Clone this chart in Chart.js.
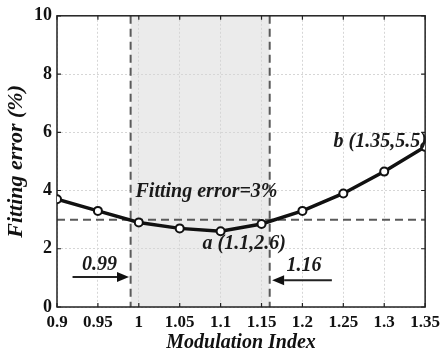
<!DOCTYPE html>
<html>
<head>
<meta charset="utf-8">
<script src="https://cdn.jsdelivr.net/npm/chart.js@4/dist/chart.umd.min.js"></script>
<style>
html,body{margin:0;padding:0;background:#fff;}
canvas{display:block;}
</style>
</head>
<body>
<canvas id="c" width="445" height="356"></canvas>
<script>
// ---- data ----
const xValues = [0.9, 0.95, 1.0, 1.05, 1.1, 1.15, 1.2, 1.25, 1.3, 1.35];
const errorValues = [3.7, 3.3, 2.9, 2.7, 2.6, 2.85, 3.3, 3.9, 4.65, 5.5];
const xTickValues = [0.9, 0.95, 1.0, 1.05, 1.1, 1.15, 1.2, 1.25, 1.3, 1.35];
const xTickLabels = ['0.9', '0.95', '1', '1.05', '1.1', '1.15', '1.2', '1.25', '1.3', '1.35'];
const yTickValues = [0, 2, 4, 6, 8, 10];
const yTickLabels = ['0', '2', '4', '6', '8', '10'];
const thresholdValue = 3;
const bandBounds = [0.99, 1.16];
const noteTexts = ['Fitting error=3%', 'a (1.1,2.6)', 'b (1.35,5.5)', '0.99', '1.16'];
const noteX = [0.996, 1.078, 1.238, 0.952, 1.202];
const noteY = [3.94, 2.16, 5.68, 1.44, 1.40];
const noteAlign = ['left', 'left', 'left', 'center', 'center'];
const arrowFromX = [0.919, 1.236];
const arrowToX = [0.988, 1.163];
const arrowY = [1.03, 0.92];

const SERIF = '"Liberation Serif", "Times New Roman", serif';

const decorPlugin = {
  id: 'decor',
  beforeDraw(chart) {
    const {ctx, chartArea: a, scales: {x, y}} = chart;
    ctx.save();
    ctx.fillStyle = '#ebebeb';
    const x0 = x.getPixelForValue(bandBounds[0]);
    const x1 = x.getPixelForValue(bandBounds[1]);
    ctx.fillRect(x0, a.top, x1 - x0, a.bottom - a.top);
    ctx.restore();
  },
  beforeDatasetsDraw(chart) {
    const {ctx, chartArea: a, scales: {x, y}} = chart;
    ctx.save();
    ctx.strokeStyle = '#5a5a5a';
    ctx.lineWidth = 2;
    ctx.setLineDash([8, 5]);
    const yt = y.getPixelForValue(thresholdValue);
    ctx.beginPath(); ctx.moveTo(a.left, yt); ctx.lineTo(a.right, yt); ctx.stroke();
    bandBounds.forEach(v => {
      const px = x.getPixelForValue(v);
      ctx.beginPath(); ctx.moveTo(px, a.top); ctx.lineTo(px, a.bottom); ctx.stroke();
    });
    ctx.setLineDash([]);
    // box + inward ticks
    ctx.strokeStyle = '#222';
    ctx.lineWidth = 1.5;
    ctx.strokeRect(a.left, a.top, a.right - a.left, a.bottom - a.top);
    ctx.lineWidth = 1.2;
    xTickValues.forEach(v => {
      const px = x.getPixelForValue(v);
      ctx.beginPath(); ctx.moveTo(px, a.bottom); ctx.lineTo(px, a.bottom - 4);
      ctx.moveTo(px, a.top); ctx.lineTo(px, a.top + 4); ctx.stroke();
    });
    yTickValues.forEach(v => {
      const py = y.getPixelForValue(v);
      ctx.beginPath(); ctx.moveTo(a.left, py); ctx.lineTo(a.left + 4, py);
      ctx.moveTo(a.right, py); ctx.lineTo(a.right - 4, py); ctx.stroke();
    });
    ctx.restore();
  },
  afterDatasetsDraw(chart) {
    const {ctx, scales: {x, y}} = chart;
    ctx.save();
    ctx.fillStyle = '#1a1a1a';
    ctx.font = 'italic bold 20px ' + SERIF;
    ctx.textBaseline = 'middle';
    noteTexts.forEach((t, i) => {
      ctx.textAlign = noteAlign[i];
      ctx.fillText(t, x.getPixelForValue(noteX[i]), y.getPixelForValue(noteY[i]));
    });
    // arrows
    ctx.strokeStyle = '#222';
    ctx.fillStyle = '#111';
    ctx.lineWidth = 2;
    arrowFromX.forEach((fx, i) => {
      const x0 = x.getPixelForValue(fx);
      const x1 = x.getPixelForValue(arrowToX[i]);
      const py = y.getPixelForValue(arrowY[i]);
      const dir = Math.sign(x1 - x0);
      const hl = 12, hw = 5;
      ctx.beginPath(); ctx.moveTo(x0, py); ctx.lineTo(x1 - dir * hl, py); ctx.stroke();
      ctx.beginPath();
      ctx.moveTo(x1, py);
      ctx.lineTo(x1 - dir * hl, py - hw);
      ctx.lineTo(x1 - dir * hl, py + hw);
      ctx.closePath(); ctx.fill();
    });
    ctx.restore();
  }
};

new Chart(document.getElementById('c'), {
  type: 'line',
  data: {
    datasets: [{
      data: xValues.map((v, i) => ({x: v, y: errorValues[i]})),
      borderColor: '#111',
      borderWidth: 3.5,
      pointRadius: 4,
      pointBorderWidth: 2,
      pointBackgroundColor: '#fff',
      pointBorderColor: '#111',
      tension: 0
    }]
  },
  options: {
    responsive: false,
    animation: false,
    layout: {padding: {left: 0, right: 18, top: 15, bottom: 0}},
    plugins: {legend: {display: false}, tooltip: {enabled: false}},
    scales: {
      x: {
        type: 'linear', min: 0.9, max: 1.35,
        afterBuildTicks: s => { s.ticks = xTickValues.map(v => ({value: v})); },
        afterFit: s => { s.height = 49; },
        grid: {color: '#d6d6d6', lineWidth: 1, drawTicks: false},
        border: {display: false, dash: [2, 2]},
        ticks: {
          padding: 5, maxRotation: 0, autoSkip: false,
          color: '#111', font: {family: SERIF, size: 17, weight: 'bold'},
          callback: (v, i) => xTickLabels[i]
        },
        title: {display: true, text: 'Modulation Index', color: '#111', padding: {top: 0, bottom: 1},
          font: {family: SERIF, size: 20, weight: 'bold', style: 'italic'}}
      },
      y: {
        type: 'linear', min: 0, max: 10,
        afterBuildTicks: s => { s.ticks = yTickValues.map(v => ({value: v})); },
        afterFit: s => { s.width = 57; },
        grid: {color: '#d6d6d6', lineWidth: 1, drawTicks: false},
        border: {display: false, dash: [2, 2]},
        ticks: {
          padding: 5, color: '#111', font: {family: SERIF, size: 18, weight: 'bold'},
          callback: (v, i) => yTickLabels[i]
        },
        title: {display: true, text: 'Fitting error (%)', color: '#111', padding: {top: 3, bottom: 0},
          font: {family: SERIF, size: 22, weight: 'bold', style: 'italic'}}
      }
    }
  },
  plugins: [decorPlugin]
});
</script>
</body>
</html>
